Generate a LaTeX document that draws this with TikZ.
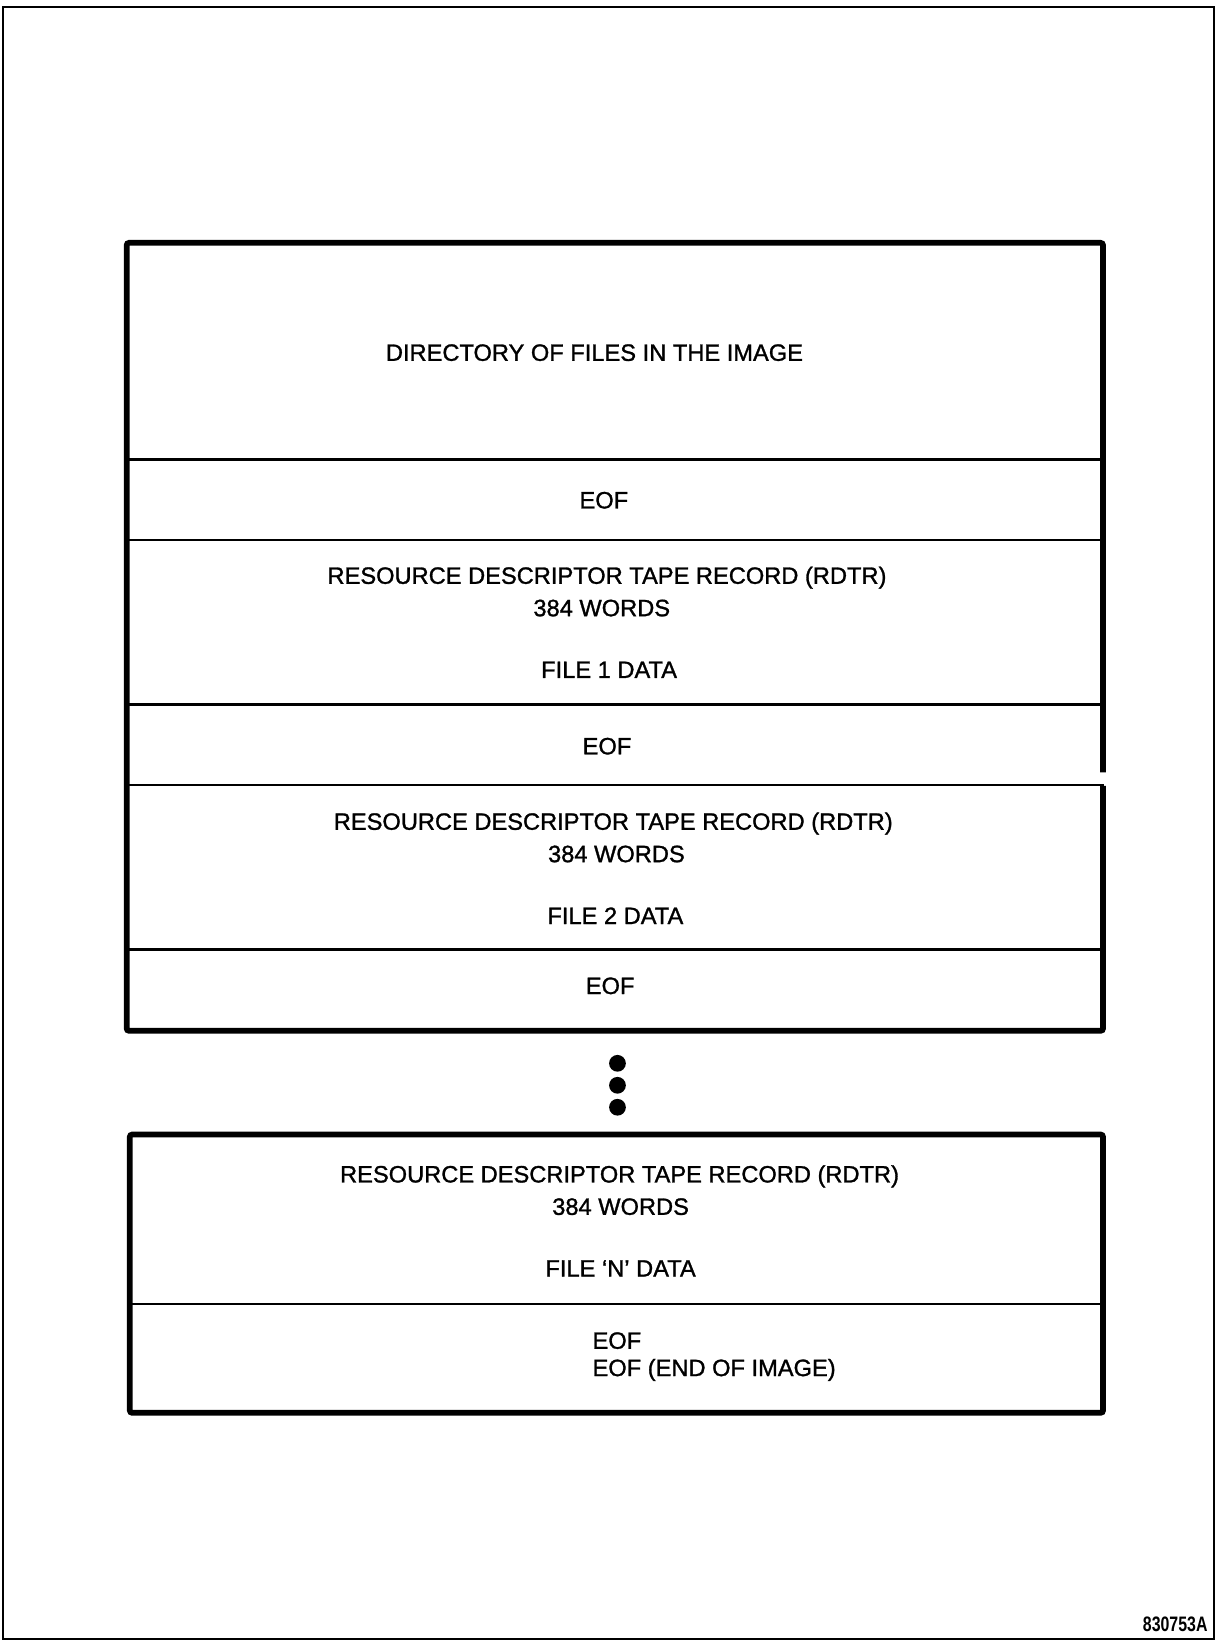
\documentclass[tikz,border=0pt]{standalone}
\usepackage{fontspec}
\setmainfont{Liberation Sans}
\newfontfamily\medfont{Liberation Sans}[FakeBold=1.2]
\begin{document}
\begin{tikzpicture}[x=1pt,y=-1pt,
  lbl/.style={font=\medfont\fontsize{22.6}{27}\selectfont, inner sep=0pt},
  heavybox/.style={line width=5.5pt, rounded corners=2.5pt},
  divider/.style={line width=2.7pt},
  frame/.style={line width=2pt},
  dotmark/.style={circle, fill=black, inner sep=0pt, minimum size=16pt}]
\useasboundingbox (0,0) rectangle (1163,1568);
% outer frame
\draw[frame] (3,7) rectangle (1160,1566);
% upper box
\draw[heavybox] (1054,738) -- (1054,232) -- (121,232) -- (121,985) -- (1054,985) -- (1054,751);
\foreach \yy in {439,516,673,907} \draw[divider] (122,\yy) -- (1053,\yy);
\draw[divider] (122,750) -- (1055,750);
% texts upper box
\node[lbl] (dir) at (568,337) {DIRECTORY OF FILES IN THE IMAGE};
\node[lbl] (eof1) at (577,478) {EOF};
\node[lbl] (rd1) at (580,552) {RESOURCE DESCRIPTOR TAPE RECORD (RDTR)};
\node[lbl] (w1) at (575,581) {384 WORDS};
\node[lbl] (f1) at (582,640) {FILE 1 DATA};
\node[lbl] (eof2) at (580,713) {EOF};
\node[lbl] (rd2) at (586,787) {RESOURCE DESCRIPTOR TAPE RECORD (RDTR)};
\node[lbl] (w2) at (589,816) {384 WORDS};
\node[lbl] (f2) at (588,875) {FILE 2 DATA};
\node[lbl] (eof3) at (583,942) {EOF};
% dots
\node[dotmark] (d1) at (590,1016) {};
\node[dotmark] (d2) at (590,1037) {};
\node[dotmark] (d3) at (590,1058) {};
% lower box
\draw[heavybox] (124,1084) rectangle (1054,1350);
\draw[divider] (125,1246) -- (1053,1246);
\node[lbl] (rd3) at (592,1124) {RESOURCE DESCRIPTOR TAPE RECORD (RDTR)};
\node[lbl] (w3) at (593,1153) {384 WORDS};
\node[lbl] (fn) at (593,1212) {FILE ‘N’ DATA};
\node[lbl, anchor=west] (eof4) at (566,1281) {EOF};
\node[lbl, anchor=west] (eof5) at (566,1309) {EOF (END OF IMAGE)};
% figure number
\node[inner sep=0pt, anchor=east, font=\fontsize{20}{22}\selectfont\bfseries] (fig) at (1154,1552) {\scalebox{0.76}[1]{830753A}};
\end{tikzpicture}
\end{document}
